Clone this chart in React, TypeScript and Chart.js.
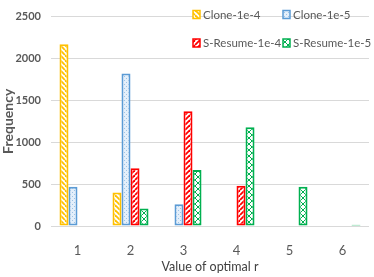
import React, { useEffect, useRef } from "react";
import { Chart, registerables } from "chart.js";

Chart.register(...registerables);

const categories = ["1", "2", "3", "4", "5", "6"];
const clone1e4 = [2170, 400, 0, 0, 0, 0];
const clone1e5 = [470, 1820, 260, 0, 0, 0];
const sresume1e4 = [0, 690, 1370, 480, 0, 0];
const sresume1e5 = [0, 210, 670, 1180, 470, 15];
const seriesNames = ["Clone-1e-4", "Clone-1e-5", "S-Resume-1e-4", "S-Resume-1e-5"];
const yTicks = [0, 500, 1000, 1500, 2000, 2500];

const FONT = "Lato, 'Open Sans', sans-serif";

function makeTile(draw: (x: CanvasRenderingContext2D, s: number) => void, size: number) {
  const c = document.createElement("canvas");
  c.width = size;
  c.height = size;
  const x = c.getContext("2d")!;
  draw(x, size);
  return c;
}

function stripeTile(color: string, dir: "down" | "up") {
  return makeTile((x, s) => {
    x.fillStyle = "#ffffff";
    x.fillRect(0, 0, s, s);
    x.strokeStyle = color;
    x.lineWidth = 1.8;
    for (let k = -s; k <= s; k += s) {
      x.beginPath();
      if (dir === "down") {
        x.moveTo(k, 0);
        x.lineTo(k + s, s);
      } else {
        x.moveTo(k, s);
        x.lineTo(k + s, 0);
      }
      x.stroke();
    }
  }, 5);
}

function dotTile() {
  return makeTile((x, s) => {
    x.fillStyle = "#e4effa";
    x.fillRect(0, 0, s, s);
    x.fillStyle = "#9dc3e6";
    x.fillRect(0, 0, 1, 1);
    x.fillRect(2, 2, 1, 1);
  }, 4);
}

function crossTile() {
  return makeTile((x, s) => {
    x.fillStyle = "#ffffff";
    x.fillRect(0, 0, s, s);
    x.strokeStyle = "#00b050";
    x.lineWidth = 1;
    x.beginPath();
    x.moveTo(0, s / 2);
    x.lineTo(s / 2, 0);
    x.lineTo(s, s / 2);
    x.lineTo(s / 2, s);
    x.closePath();
    x.stroke();
  }, 6);
}

export default function App() {
  const ref = useRef<HTMLCanvasElement | null>(null);

  useEffect(() => {
    document.body.style.margin = "0";
    const canvas = ref.current!;
    const ctx = canvas.getContext("2d")!;
    const borders = ["#ffc000", "#5b9bd5", "#ff0000", "#00b050"];
    const fills = [
      ctx.createPattern(stripeTile("#ffc000", "down"), "repeat")!,
      ctx.createPattern(dotTile(), "repeat")!,
      ctx.createPattern(stripeTile("#ff0000", "up"), "repeat")!,
      ctx.createPattern(crossTile(), "repeat")!,
    ];
    const values = [clone1e4, clone1e5, sresume1e4, sresume1e5];

    const legendPlugin = {
      id: "insideLegend",
      afterDraw(chart: any) {
        const c = chart.ctx as CanvasRenderingContext2D;
        const pos = [
          [193, 14.5],
          [283, 14.5],
          [193, 43],
          [283, 43],
        ];
        c.save();
        c.font = `11.5px ${FONT}`;
        c.textBaseline = "middle";
        c.textAlign = "left";
        seriesNames.forEach((name, i) => {
          const [x, y] = pos[i];
          c.fillStyle = fills[i];
          c.fillRect(x, y - 4, 7, 8);
          c.strokeStyle = borders[i];
          c.lineWidth = 1.5;
          c.strokeRect(x, y - 4, 7, 8);
          c.fillStyle = "#595959";
          c.fillText(name, x + 10, y + 0.5);
        });
        c.restore();
      },
    };

    const chart = new Chart(canvas, {
      type: "bar",
      data: {
        labels: categories,
        datasets: values.map((v, i) => ({
          label: seriesNames[i],
          data: v,
          backgroundColor: fills[i] as any,
          borderColor: borders[i],
          borderWidth: 2,
          borderSkipped: false,
          categoryPercentage: 0.68,
          barPercentage: 1,
        })),
      },
      options: {
        responsive: false,
        animation: false,
        layout: { padding: { top: 16, right: 5, left: 0, bottom: 0 } },
        plugins: {
          legend: { display: false },
          tooltip: { enabled: false },
        },
        scales: {
          x: {
            grid: { display: false },
            border: { display: false },
            ticks: {
              color: "#595959",
              font: { family: FONT, size: 13 },
              padding: 9,
            },
            title: {
              display: true,
              text: "Value of optimal r",
              color: "#404040",
              font: { family: FONT, size: 12.5 },
              padding: { top: 0, bottom: 3 },
            },
            afterFit: (s: any) => {
              s.height = 51;
            },
          },
          y: {
            min: 0,
            max: 2500,
            afterBuildTicks: (s: any) => {
              s.ticks = yTicks.map((v) => ({ value: v }));
            },
            grid: { color: "#d9d9d9", drawTicks: false },
            border: { display: false },
            ticks: {
              color: "#595959",
              font: { family: FONT, size: 11, weight: "bold" },
              padding: 10,
              callback: (v: any) => String(v),
            },
            title: {
              display: true,
              text: "Frequency",
              color: "#595959",
              font: { family: FONT, size: 14, weight: "bold" },
              padding: { top: 0, bottom: 0 },
            },
            afterFit: (s: any) => {
              s.width = 51;
            },
          },
        },
      },
      plugins: [legendPlugin],
    });
    return () => chart.destroy();
  }, []);

  return (
    <div style={{ position: "absolute", left: 0, top: 0, width: 374, height: 277 }}>
      <canvas ref={ref} width={374} height={277} style={{ display: "block" }} />
    </div>
  );
}
